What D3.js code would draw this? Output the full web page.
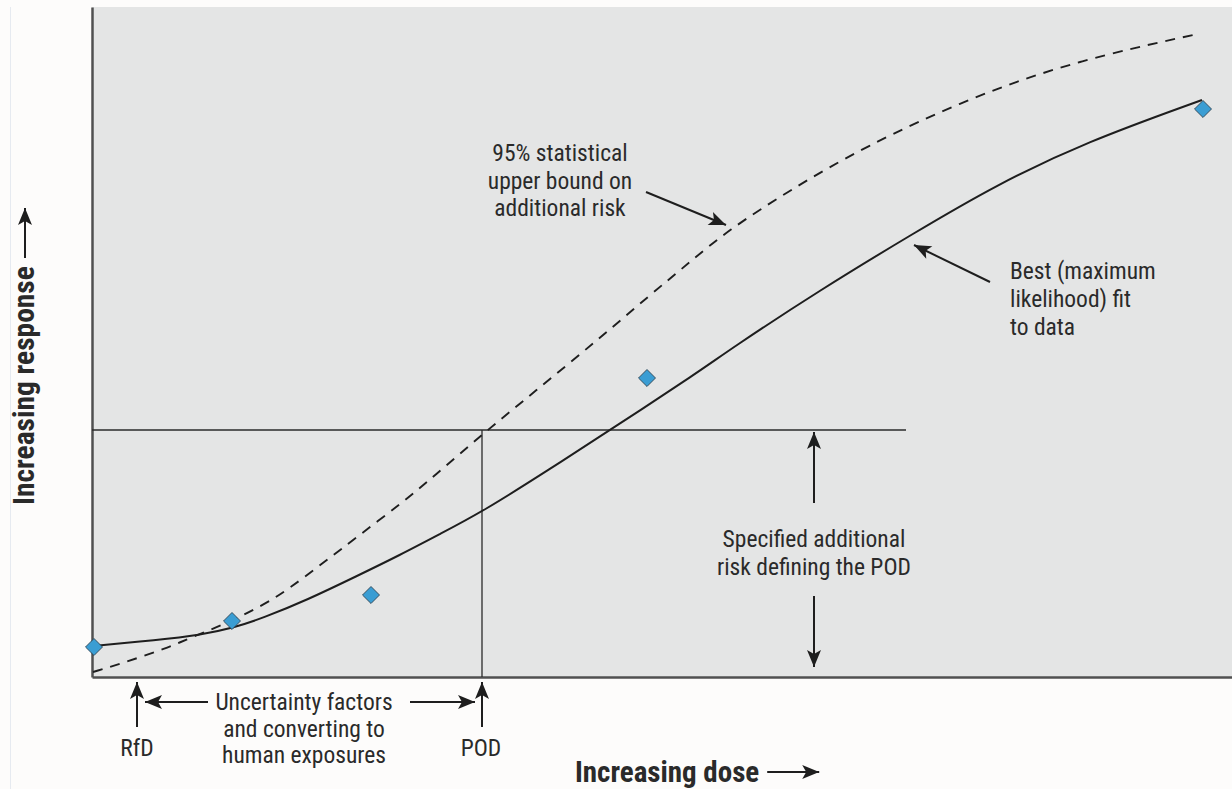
<!DOCTYPE html>
<html><head><meta charset="utf-8">
<script src="https://cdn.jsdelivr.net/npm/d3@7"></script>
<style>
html,body{margin:0;padding:0;background:#fdfcfb;}
text{font-family:"Liberation Sans Narrow","Roboto Condensed","Liberation Sans",sans-serif;fill:#2a2a2a;}
</style></head>
<body>
<svg id="chart" width="1232" height="789"></svg>
<script>
// ---- data (dose / response in arbitrary units) ----
const observedDose     = [0.2, 14.0, 27.9, 55.5, 111.1];
const observedResponse = [3.0, 5.6, 8.2, 29.9, 56.8];

const fitDose     = [0.1, 6.5, 10.8, 14.1, 17.1, 21.5, 26.5, 30.8, 34.8, 39.0, 45.8, 51.8, 60.8, 63.7, 72.8, 82.2, 90.4, 99.4, 111.0];
const fitResponse = [3.1, 3.7, 4.2, 4.9, 5.9, 7.7, 10.1, 12.2, 14.3, 16.5, 20.8, 24.7, 30.6, 32.7, 38.7, 44.4, 49.2, 53.5, 57.7];

const upperDose     = [0.1, 3.1, 7.5, 9.8, 13.8, 17.5, 19.8, 23.1, 26.5, 31.1, 34.1, 39.3, 44.1, 50.8, 55.8, 59.8, 63.5, 69.8, 77.2, 87.9, 98.7, 110.1];
const upperResponse = [0.5, 1.4, 2.9, 3.9, 5.5, 7.4, 8.9, 11.4, 14.0, 17.5, 20.0, 24.5, 28.4, 33.9, 38.2, 41.5, 44.6, 48.7, 53.0, 58.0, 61.7, 64.2];

const podDose = 39.0;
const podResponse = 24.7;
const riskLineEnd = 81.4;
const rfdDose = 4.5;

const svg = d3.select("#chart");
const W = 1232, H = 789;
const m = {left:92, right:0, top:7, bottom:112};

const x = d3.scaleLinear().domain([0,114]).range([m.left, W - m.right]);
const y = d3.scaleLinear().domain([0,67]).range([H - m.bottom, m.top]);

// arrow marker
const defs = svg.append("defs");
defs.append("marker").attr("id","ah").attr("viewBox","-18 -8 19 16")
  .attr("refX",0).attr("refY",0).attr("markerWidth",19).attr("markerHeight",16)
  .attr("markerUnits","userSpaceOnUse").attr("orient","auto")
  .append("path").attr("d","M0,0 L-17,-7 L-13,0 L-17,7 Z").attr("fill","#1e1e1e");

// faint left page rule
svg.append("line").attr("x1",10.5).attr("x2",10.5).attr("y1",7).attr("y2",789)
  .attr("stroke","#e6eaf0").attr("stroke-width",1);

// plot background
svg.append("rect").attr("x",x(0)).attr("y",y(67)).attr("width",x(114)-x(0)).attr("height",y(0)-y(67))
  .attr("fill","#e4e5e5");

// axes (no ticks)
const xAxis = d3.axisBottom(x).tickValues([]).tickSizeOuter(0);
const yAxis = d3.axisLeft(y).tickValues([]).tickSizeOuter(0);
svg.append("g").attr("transform",`translate(0,${y(0)})`).call(xAxis)
  .select(".domain").attr("stroke","#505050").attr("stroke-width",2.5);
svg.append("g").attr("transform",`translate(${x(0)},0)`).call(yAxis)
  .select(".domain").attr("stroke","#505050").attr("stroke-width",2.5);

// POD reference lines
svg.append("line").attr("x1",x(0)).attr("x2",x(riskLineEnd)).attr("y1",y(podResponse)).attr("y2",y(podResponse))
  .attr("stroke","#2a2a2a").attr("stroke-width",1.3);
svg.append("line").attr("x1",x(podDose)).attr("x2",x(podDose)).attr("y1",y(podResponse)).attr("y2",y(0))
  .attr("stroke","#2a2a2a").attr("stroke-width",1.3);

// curves
const line = d3.line().x(d=>x(d[0])).y(d=>y(d[1])).curve(d3.curveBasis);
svg.append("path").attr("d", line(d3.zip(upperDose, upperResponse)))
  .attr("fill","none").attr("stroke","#1e1e1e").attr("stroke-width",1.9).attr("stroke-dasharray","10,8");
svg.append("path").attr("d", line(d3.zip(fitDose, fitResponse)))
  .attr("fill","none").attr("stroke","#1e1e1e").attr("stroke-width",2);

// observed points (diamonds)
svg.selectAll("path.pt").data(d3.zip(observedDose, observedResponse)).join("path").attr("class","pt")
  .attr("d", d3.symbol(d3.symbolSquare, 145)())
  .attr("transform", d=>`translate(${x(d[0])},${y(d[1])}) rotate(45)`)
  .attr("fill","#3a9dd3").attr("stroke","#2c3e4c").attr("stroke-width",0.8);

// helpers
function arrow(x1,y1,x2,y2){
  svg.append("line").attr("x1",x1).attr("y1",y1).attr("x2",x2).attr("y2",y2)
    .attr("stroke","#1e1e1e").attr("stroke-width",2).attr("marker-end","url(#ah)");
}
function label(lines, cx, y0, lh, anchor){
  const t = svg.append("text").attr("text-anchor",anchor||"middle").attr("font-size",23.5);
  lines.forEach((s,i)=>t.append("tspan").attr("x",cx).attr("y",y0+i*lh).text(s));
}

// upper bound annotation
label(["95% statistical","upper bound on","additional risk"], 560, 161, 27.5);
arrow(646,192,726,225);

// best fit annotation
label(["Best (maximum","likelihood) fit","to data"], 1010, 279, 28, "start");
arrow(990,282,914,245);

// specified risk annotation
label(["Specified additional","risk defining the POD"], 814, 547, 28);
arrow(814,503,814,432);
arrow(814,596,814,667);

// bottom annotations
arrow(x(rfdDose),727,x(rfdDose),682);
arrow(x(podDose),727,x(podDose),682);
arrow(208,702,145,702);
arrow(410,702,475,702);
label(["Uncertainty factors","and converting to","human exposures"], 304, 710, 26.5);
label(["RfD"], x(rfdDose), 756, 0);
label(["POD"], x(podDose)-1, 756, 0);

// axis titles
const xt = svg.append("text").attr("x",575).attr("y",782).attr("font-size",29).attr("font-weight","bold")
  .attr("fill","#1a1a1a").text("Increasing dose");
const xw = xt.node().getComputedTextLength();
arrow(575+xw+8, 772, 575+xw+60, 772);

const yt = svg.append("text").attr("transform","translate(34,505) rotate(-90)").attr("text-anchor","start")
  .attr("font-size",29.5).attr("font-weight","bold").attr("fill","#1a1a1a").text("Increasing response");
const yw = yt.node().getComputedTextLength();
arrow(25, 505-yw-8, 25, 505-yw-58);
</script>
</body></html>
